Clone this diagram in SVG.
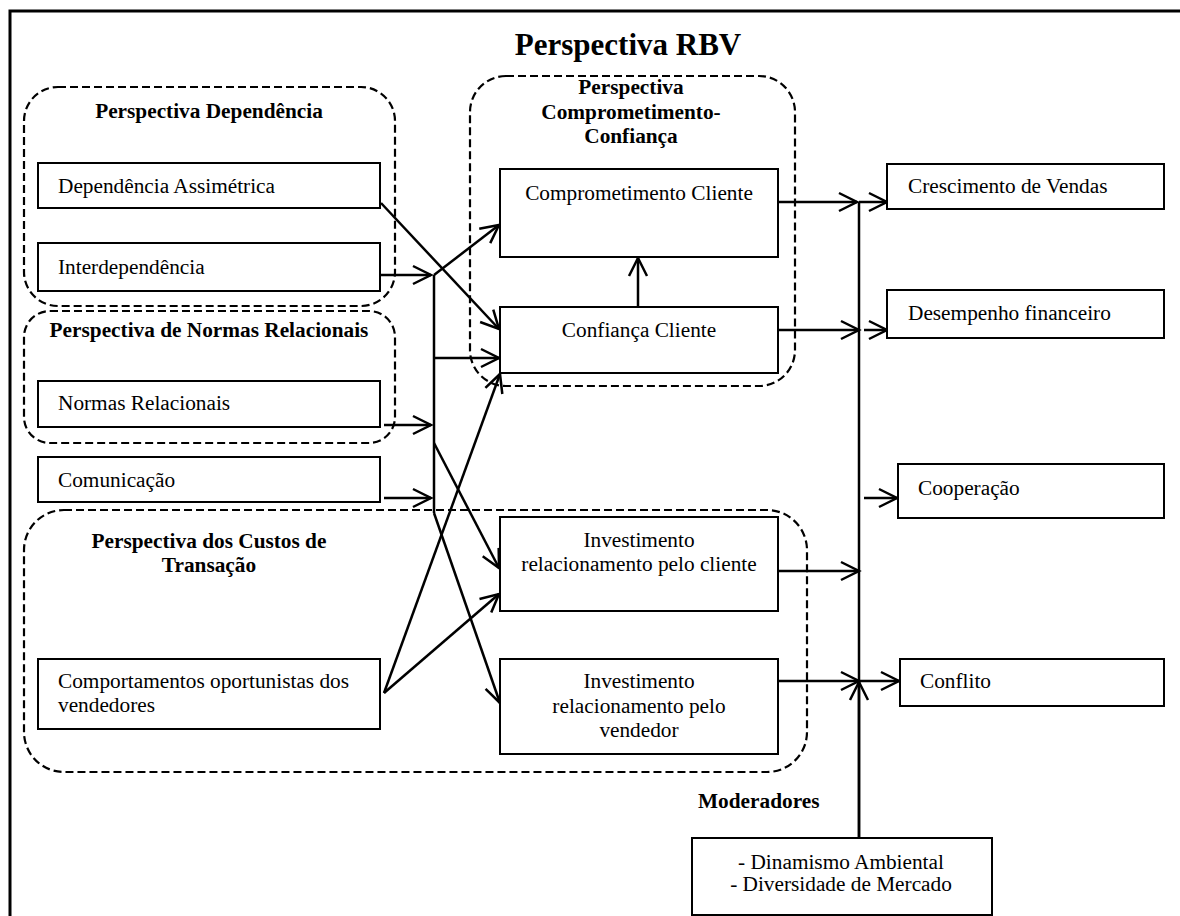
<svg xmlns="http://www.w3.org/2000/svg" width="1180" height="916" viewBox="0 0 1180 916">
  <defs>
    <marker id="arrow" markerUnits="userSpaceOnUse" markerWidth="26" markerHeight="26" viewBox="-22 -13 26 26" refX="0" refY="0" orient="auto">
      <path d="M-18,-9 L0,0 L-18,9" fill="none" stroke="#000" stroke-width="2.5" stroke-linejoin="miter"/>
    </marker>
    <style>
      text { font-family: "Liberation Serif", "Times New Roman", serif; fill: #000; }
      .lbl { font-size: 21.3px; }
      .ttl { font-size: 21.3px; font-weight: bold; }
      .mid { text-anchor: middle; }
      .box { fill: #fff; stroke: #000; stroke-width: 2; }
      .grp { fill: none; stroke: #000; stroke-width: 2.2; stroke-dasharray: 8 4; }
      .con { fill: none; stroke: #000; stroke-width: 2.5; }
      .arr { marker-end: url(#arrow); }
    </style>
  </defs>

  <rect width="1180" height="916" fill="#fff"/>
  <!-- outer frame -->
  <rect x="10" y="11" width="1200" height="920" fill="none" stroke="#000" stroke-width="3"/>
  <text x="628" y="55" class="mid" style="font-size:31px;font-weight:bold">Perspectiva RBV</text>

  <!-- perspective groups (dashed) -->
  <g id="grp-dependencia">
    <rect x="24" y="87" width="371" height="219" rx="34" class="grp"/>
    <text x="209" y="118" class="ttl mid">Perspectiva Dependência</text>
  </g>
  <g id="grp-normas">
    <rect x="24" y="311" width="371" height="132" rx="26" class="grp"/>
    <text x="209" y="337" class="ttl mid">Perspectiva de Normas Relacionais</text>
  </g>
  <g id="grp-compromisso">
    <rect x="470" y="76" width="325" height="310" rx="36" class="grp"/>
    <text x="631" y="94" class="ttl mid">Perspectiva</text>
    <text x="631" y="119" class="ttl mid">Comprometimento-</text>
    <text x="631" y="143" class="ttl mid">Confiança</text>
  </g>
  <g id="grp-custos">
    <rect x="24" y="510" width="783" height="262" rx="40" class="grp"/>
    <text x="209" y="548" class="ttl mid">Perspectiva dos Custos de</text>
    <text x="209" y="572" class="ttl mid">Transação</text>
  </g>

  <!-- connectors -->
  <g id="connectors">
    <!-- antecedents into the collector line -->
    <line x1="380" y1="275" x2="431" y2="275" class="con arr"/>
    <line x1="384" y1="425" x2="431" y2="425" class="con arr"/>
    <line x1="384" y1="498" x2="431" y2="498" class="con arr"/>
    <line x1="434" y1="275" x2="434" y2="513" class="con"/>
    <!-- collector to mediators -->
    <line x1="434" y1="275" x2="499" y2="225" class="con arr"/>
    <line x1="434" y1="358" x2="499" y2="358" class="con arr"/>
    <line x1="434" y1="443" x2="499" y2="568" class="con arr"/>
    <line x1="434" y1="513" x2="500" y2="703" class="con arr"/>
    <!-- dependência assimétrica to confiança -->
    <line x1="381" y1="203" x2="499" y2="329" class="con arr"/>
    <!-- comportamentos oportunistas -->
    <line x1="384" y1="693" x2="500" y2="374" class="con arr"/>
    <line x1="384" y1="693" x2="499" y2="594" class="con arr"/>
    <!-- confiança to comprometimento -->
    <line x1="638" y1="307" x2="638" y2="258" class="con arr"/>
    <!-- mediators to moderation line -->
    <line x1="778" y1="202" x2="857" y2="202" class="con arr"/>
    <line x1="778" y1="330" x2="859" y2="330" class="con arr"/>
    <line x1="778" y1="571" x2="859" y2="571" class="con arr"/>
    <line x1="778" y1="681" x2="859" y2="681" class="con arr"/>
    <!-- moderation line -->
    <line x1="859" y1="202" x2="859" y2="838" class="con"/>
    <line x1="859" y1="838" x2="859" y2="682" class="con arr"/>
    <!-- to outcomes -->
    <line x1="859" y1="202" x2="887" y2="202" class="con arr"/>
    <line x1="864" y1="330" x2="887" y2="330" class="con arr"/>
    <line x1="864" y1="498" x2="897" y2="498" class="con arr"/>
    <line x1="859" y1="681" x2="899" y2="681" class="con arr"/>
  </g>

  <!-- antecedent nodes -->
  <g id="dependencia-assimetrica">
    <rect x="38" y="163" width="342" height="45" class="box"/>
    <text x="58" y="193" class="lbl">Dependência Assimétrica</text>
  </g>
  <g id="interdependencia">
    <rect x="38" y="243" width="342" height="48" class="box"/>
    <text x="58" y="274" class="lbl">Interdependência</text>
  </g>
  <g id="normas-relacionais">
    <rect x="38" y="381" width="342" height="46" class="box"/>
    <text x="58" y="410" class="lbl">Normas Relacionais</text>
  </g>
  <g id="comunicacao">
    <rect x="38" y="457" width="342" height="45" class="box"/>
    <text x="58" y="487" class="lbl">Comunicação</text>
  </g>
  <g id="comportamentos">
    <rect x="38" y="659" width="342" height="70" class="box"/>
    <text x="58" y="688" class="lbl">Comportamentos oportunistas dos</text>
    <text x="58" y="712" class="lbl">vendedores</text>
  </g>

  <!-- mediator nodes -->
  <g id="comprometimento-cliente">
    <rect x="500" y="169" width="278" height="88" class="box"/>
    <text x="639" y="200" class="lbl mid">Comprometimento Cliente</text>
  </g>
  <g id="confianca-cliente">
    <rect x="500" y="307" width="278" height="66" class="box"/>
    <text x="639" y="337" class="lbl mid">Confiança Cliente</text>
  </g>
  <g id="investimento-cliente">
    <rect x="500" y="517" width="278" height="94" class="box"/>
    <text x="639" y="547" class="lbl mid">Investimento</text>
    <text x="639" y="571" class="lbl mid">relacionamento pelo cliente</text>
  </g>
  <g id="investimento-vendedor">
    <rect x="500" y="659" width="278" height="95" class="box"/>
    <text x="639" y="688" class="lbl mid">Investimento</text>
    <text x="639" y="713" class="lbl mid">relacionamento pelo</text>
    <text x="639" y="737" class="lbl mid">vendedor</text>
  </g>

  <!-- outcome nodes -->
  <g id="crescimento-vendas">
    <rect x="887" y="164" width="277" height="45" class="box"/>
    <text x="908" y="193" class="lbl">Crescimento de Vendas</text>
  </g>
  <g id="desempenho-financeiro">
    <rect x="887" y="290" width="277" height="48" class="box"/>
    <text x="908" y="320" class="lbl">Desempenho financeiro</text>
  </g>
  <g id="cooperacao">
    <rect x="898" y="464" width="266" height="54" class="box"/>
    <text x="918" y="495" class="lbl">Cooperação</text>
  </g>
  <g id="conflito">
    <rect x="900" y="659" width="264" height="47" class="box"/>
    <text x="920" y="688" class="lbl">Conflito</text>
  </g>

  <!-- moderators -->
  <g id="moderadores">
    <text x="698" y="808" class="ttl">Moderadores</text>
    <rect x="692" y="838" width="300" height="77" class="box"/>
    <text x="841" y="869" class="lbl mid">- Dinamismo Ambiental</text>
    <text x="841" y="891" class="lbl mid">- Diversidade de Mercado</text>
  </g>
</svg>
